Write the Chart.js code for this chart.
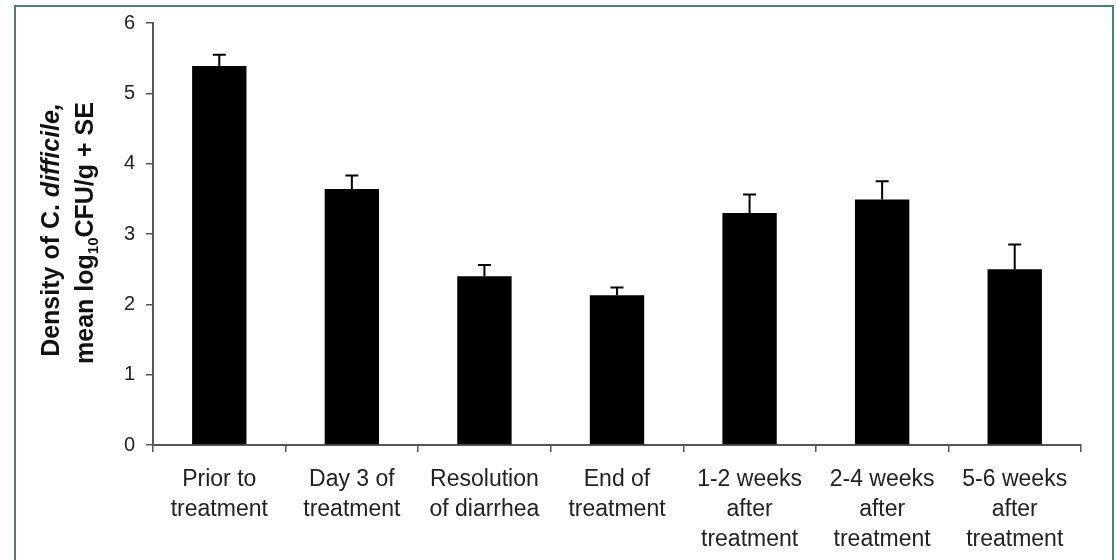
<!DOCTYPE html>
<html>
<head>
<meta charset="utf-8">
<title>C. difficile density</title>
<script src="https://cdn.jsdelivr.net/npm/chart.js@4/dist/chart.umd.min.js"></script>
<style>
    html, body { margin: 0; padding: 0; background: #fff; }
    #wrap { width: 1116px; height: 560px; position: relative; }
</style>
</head>
<body>
<div id="wrap"><canvas id="density_chart" width="1116" height="560"></canvas></div>
<script>
    // 카테고리 (x축)
    var categories = [
        ["Prior to", "treatment"],
        ["Day 3 of", "treatment"],
        ["Resolution", "of diarrhea"],
        ["End of", "treatment"],
        ["1-2 weeks", "after", "treatment"],
        ["2-4 weeks", "after", "treatment"],
        ["5-6 weeks", "after", "treatment"]
    ];
    // 평균 log10 CFU/g
    var means = [5.39, 3.64, 2.40, 2.13, 3.30, 3.49, 2.50];
    // 표준오차 (+SE)
    var se = [0.16, 0.19, 0.16, 0.11, 0.26, 0.26, 0.35];
    var yTicks = [0, 1, 2, 3, 4, 5, 6];

    var axisColor = '#555';
    var textColor = '#222';
    var fontFamily = 'Arial, "Liberation Sans", sans-serif';

    // 바깥 테두리
    var framePlugin = {
        id: 'frame',
        beforeDraw: function (chart) {
            var ctx = chart.ctx;
            ctx.save();
            ctx.fillStyle = '#fff';
            ctx.fillRect(0, 0, chart.width, chart.height);
            ctx.strokeStyle = '#4e7f7c';
            ctx.lineWidth = 2;
            ctx.beginPath();
            ctx.moveTo(15, chart.height);
            ctx.lineTo(15, 6);
            ctx.lineTo(1113, 6);
            ctx.lineTo(1113, chart.height);
            ctx.stroke();
            ctx.restore();
        }
    };

    // 에러바 (+SE 만)
    var errorBarPlugin = {
        id: 'errorBars',
        afterDatasetsDraw: function (chart) {
            var ctx = chart.ctx;
            var yScale = chart.scales.y;
            var meta = chart.getDatasetMeta(0);
            ctx.save();
            ctx.strokeStyle = '#000';
            ctx.lineWidth = 2;
            for (var i = 0; i < meta.data.length; i++) {
                var x = meta.data[i].x;
                var yBar = yScale.getPixelForValue(means[i]);
                var yTop = yScale.getPixelForValue(means[i] + se[i]);
                ctx.beginPath();
                ctx.moveTo(x, yBar);
                ctx.lineTo(x, yTop);
                ctx.moveTo(x - 6.5, yTop);
                ctx.lineTo(x + 6.5, yTop);
                ctx.stroke();
            }
            ctx.restore();
        }
    };

    // y축 제목 (이탤릭, 아래첨자 섞여서 직접 그림)
    function drawRotatedLine(ctx, cx, cy, parts) {
        var total = 0;
        parts.forEach(function (p) {
            ctx.font = p.font;
            p.w = ctx.measureText(p.text).width;
            total += p.w;
        });
        ctx.save();
        ctx.translate(cx, cy);
        ctx.rotate(-Math.PI / 2);
        var pos = -total / 2;
        parts.forEach(function (p) {
            ctx.font = p.font;
            ctx.fillText(p.text, pos, p.dy || 0);
            pos += p.w;
        });
        ctx.restore();
    }

    var yTitlePlugin = {
        id: 'yTitle',
        afterDraw: function (chart) {
            var ctx = chart.ctx;
            ctx.save();
            ctx.fillStyle = '#111';
            ctx.textBaseline = 'middle';
            drawRotatedLine(ctx, 52, 230, [
                {text: 'Density of C. ', font: 'bold 25px ' + fontFamily},
                {text: 'difficile,', font: 'italic bold 25px ' + fontFamily}
            ]);
            drawRotatedLine(ctx, 86, 233, [
                {text: 'mean log', font: 'bold 25px ' + fontFamily},
                {text: '10', font: 'bold 15px ' + fontFamily, dy: 8},
                {text: 'CFU/g + SE', font: 'bold 25px ' + fontFamily}
            ]);
            ctx.restore();
        }
    };

    new Chart(document.getElementById('density_chart').getContext('2d'), {
        type: 'bar',
        data: {
            labels: categories,
            datasets: [{
                data: means,
                backgroundColor: '#000',
                borderWidth: 0,
                barPercentage: 0.41,
                categoryPercentage: 1.0
            }]
        },
        options: {
            responsive: false,
            animation: false,
            layout: {
                padding: {top: 21, right: 35, left: 0, bottom: 0}
            },
            plugins: {
                legend: {display: false},
                tooltip: {enabled: false}
            },
            scales: {
                x: {
                    grid: {
                        display: true,
                        offset: true,
                        drawOnChartArea: false,
                        drawTicks: true,
                        tickLength: 7,
                        color: axisColor,
                        lineWidth: 1.5
                    },
                    border: {color: axisColor, width: 2},
                    ticks: {
                        color: textColor,
                        padding: 13,
                        maxRotation: 0,
                        autoSkip: false,
                        font: {family: fontFamily, size: 23, lineHeight: 1.3}
                    },
                    afterFit: function (scale) {
                        scale.height = 115;
                    }
                },
                y: {
                    min: 0,
                    max: 6,
                    grid: {
                        display: true,
                        drawOnChartArea: false,
                        drawTicks: true,
                        tickLength: 7,
                        color: axisColor,
                        lineWidth: 1.5
                    },
                    border: {color: axisColor, width: 2},
                    afterBuildTicks: function (scale) {
                        scale.ticks = yTicks.map(function (v) { return {value: v}; });
                    },
                    ticks: {
                        color: textColor,
                        padding: 11,
                        font: {family: fontFamily, size: 20}
                    },
                    afterFit: function (scale) {
                        scale.width = 153;
                    }
                }
            }
        },
        plugins: [framePlugin, errorBarPlugin, yTitlePlugin]
    });
</script>
</body>
</html>
